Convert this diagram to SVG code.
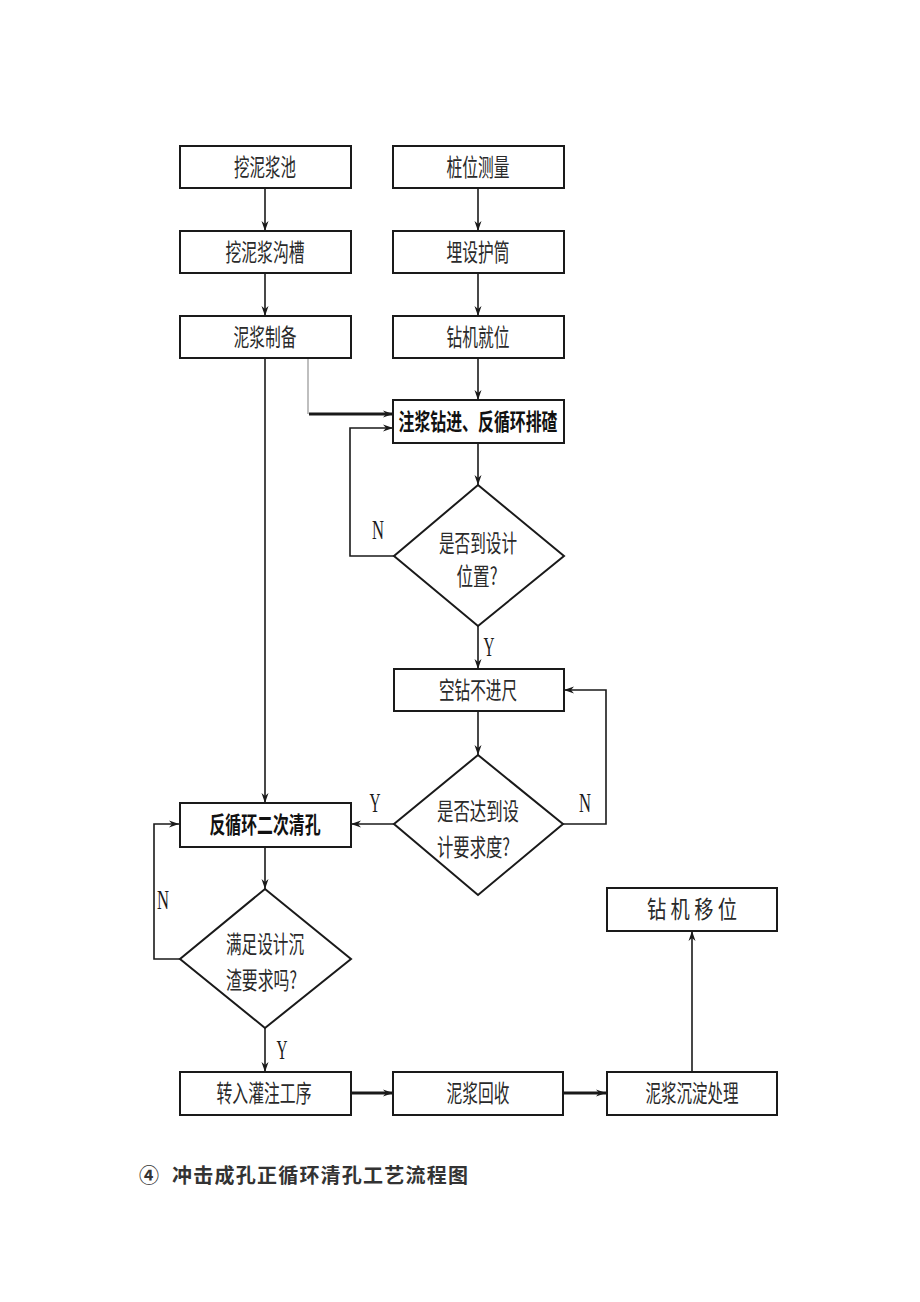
<svg xmlns="http://www.w3.org/2000/svg" width="920" height="1302" viewBox="0 0 920 1302">
<defs>
<style>
.box{fill:#fff;stroke:#1a1a1a;stroke-width:2}
.dia{fill:#fff;stroke:#1a1a1a;stroke-width:2}
.t{font-family:"Noto Sans CJK SC","Noto Sans",sans-serif;font-size:24px;fill:#2a2a2a;dominant-baseline:central}
.b{font-weight:bold;fill:#111;font-size:23px}
.c{text-anchor:middle}
.yn{font-family:"Liberation Serif",serif;font-size:28px;fill:#1a1a1a;text-anchor:middle;dominant-baseline:central}
.ln{fill:none;stroke:#1a1a1a;stroke-width:1.6}
.thk{stroke-width:3}
.cap{font-family:"Noto Sans CJK SC","Noto Sans",sans-serif;font-size:20px;font-weight:bold;fill:#333}
</style>
<marker id="ah" markerUnits="userSpaceOnUse" markerWidth="10" markerHeight="8" refX="10" refY="4" orient="auto">
<path d="M0,0.5 L10,4 L0,7.5 L3,4 z" fill="#1a1a1a"/>
</marker>
</defs>
<rect width="920" height="1302" fill="#fff"/>

<g id="connectors">
<line class="ln" x1="265" y1="188" x2="265" y2="231" marker-end="url(#ah)"/>
<line class="ln" x1="265" y1="273" x2="265" y2="316" marker-end="url(#ah)"/>
<line class="ln" x1="478" y1="188" x2="478" y2="231" marker-end="url(#ah)"/>
<line class="ln" x1="478" y1="273" x2="478" y2="316" marker-end="url(#ah)"/>
<line class="ln" x1="478" y1="358" x2="478" y2="400" marker-end="url(#ah)"/>
<line class="ln" x1="265" y1="358" x2="265" y2="803" marker-end="url(#ah)"/>
<polyline points="308,358 308,414" fill="none" stroke="#aaa" stroke-width="1.5"/>
<line class="ln thk" x1="309" y1="414" x2="393" y2="414" marker-end="url(#ah)"/>
<polyline class="ln" points="394,556 350,556 350,428 393,428" marker-end="url(#ah)"/>
<line class="ln" x1="478" y1="443" x2="478" y2="485" marker-end="url(#ah)"/>
<line class="ln" x1="478" y1="626" x2="478" y2="669" marker-end="url(#ah)"/>
<line class="ln" x1="478" y1="711" x2="478" y2="755" marker-end="url(#ah)"/>
<polyline class="ln" stroke-width="2.4" points="563,824 606,824 606,690 564,690" marker-end="url(#ah)"/>
<line class="ln" stroke-width="2" x1="394" y1="824" x2="351" y2="824" marker-end="url(#ah)"/>
<line class="ln" x1="265" y1="847" x2="265" y2="889" marker-end="url(#ah)"/>
<polyline class="ln" points="180,959 154,959 154,824 179,824" marker-end="url(#ah)"/>
<line class="ln" x1="265" y1="1028" x2="265" y2="1072" marker-end="url(#ah)"/>
<line class="ln thk" x1="351" y1="1093" x2="393" y2="1093" marker-end="url(#ah)"/>
<line class="ln thk" x1="563" y1="1093" x2="606" y2="1093" marker-end="url(#ah)"/>
<line class="ln" x1="692" y1="1072" x2="692" y2="931" marker-end="url(#ah)"/>
<text class="yn" x="378" y="529" textLength="12" lengthAdjust="spacingAndGlyphs">N</text>
<text class="yn" x="489" y="646" textLength="11" lengthAdjust="spacingAndGlyphs">Y</text>
<text class="yn" x="375" y="802" textLength="11" lengthAdjust="spacingAndGlyphs">Y</text>
<text class="yn" x="585" y="802" textLength="12" lengthAdjust="spacingAndGlyphs">N</text>
<text class="yn" x="163" y="899" textLength="12" lengthAdjust="spacingAndGlyphs">N</text>
<text class="yn" x="282" y="1049" textLength="11" lengthAdjust="spacingAndGlyphs">Y</text>
</g>

<g id="n1"><rect class="box" x="180" y="146" width="171" height="42"/><text class="t c" x="265" y="165" textLength="62" lengthAdjust="spacingAndGlyphs">挖泥浆池</text></g>
<g id="n2"><rect class="box" x="180" y="231" width="171" height="42"/><text class="t c" x="265" y="250" textLength="79" lengthAdjust="spacingAndGlyphs">挖泥浆沟槽</text></g>
<g id="n3"><rect class="box" x="180" y="316" width="171" height="42"/><text class="t c" x="265" y="335" textLength="63" lengthAdjust="spacingAndGlyphs">泥浆制备</text></g>
<g id="n4"><rect class="box" x="393" y="146" width="171" height="42"/><text class="t c" x="478" y="165" textLength="63" lengthAdjust="spacingAndGlyphs">桩位测量</text></g>
<g id="n5"><rect class="box" x="393" y="231" width="171" height="42"/><text class="t c" x="478" y="250" textLength="63" lengthAdjust="spacingAndGlyphs">埋设护筒</text></g>
<g id="n6"><rect class="box" x="393" y="316" width="171" height="42"/><text class="t c" x="478" y="335" textLength="63" lengthAdjust="spacingAndGlyphs">钻机就位</text></g>
<g id="n7"><rect class="box" x="393" y="400" width="171" height="43"/><text class="t b c" x="478" y="420" textLength="159" lengthAdjust="spacingAndGlyphs">注浆钻进、反循环排碴</text></g>
<g id="d1"><polygon class="dia" points="478,485 564,556 478,626 394,556"/><text class="t c" x="478" y="541" textLength="78" lengthAdjust="spacingAndGlyphs">是否到设计</text><text class="t c" x="477" y="574" textLength="41" lengthAdjust="spacingAndGlyphs">位置?</text></g>
<g id="n8"><rect class="box" x="394" y="669" width="170" height="42"/><text class="t c" x="478" y="688" textLength="78" lengthAdjust="spacingAndGlyphs">空钻不进尺</text></g>
<g id="d2"><polygon class="dia" points="478,755 563,824 478,895 394,824"/><text class="t" x="437" y="809" textLength="82" lengthAdjust="spacingAndGlyphs">是否达到设</text><text class="t" x="437" y="845" textLength="73" lengthAdjust="spacingAndGlyphs">计要求度?</text></g>
<g id="n9"><rect class="box" x="180" y="803" width="171" height="44"/><text class="t b c" x="265" y="823" textLength="111" lengthAdjust="spacingAndGlyphs">反循环二次清孔</text></g>
<g id="d3"><polygon class="dia" points="265,889 351,959 265,1028 180,959"/><text class="t" x="226" y="942" textLength="78" lengthAdjust="spacingAndGlyphs">满足设计沉</text><text class="t" x="226" y="978" textLength="71" lengthAdjust="spacingAndGlyphs">渣要求吗?</text></g>
<g id="n10"><rect class="box" x="607" y="888" width="170" height="43"/><text class="t c" x="692" y="907" textLength="90" lengthAdjust="spacingAndGlyphs">钻 机 移 位</text></g>
<g id="n11"><rect class="box" x="180" y="1072" width="171" height="43"/><text class="t c" x="264" y="1091" textLength="95" lengthAdjust="spacingAndGlyphs">转入灌注工序</text></g>
<g id="n12"><rect class="box" x="393" y="1072" width="170" height="43"/><text class="t c" x="478" y="1091" textLength="63" lengthAdjust="spacingAndGlyphs">泥浆回收</text></g>
<g id="n13"><rect class="box" x="607" y="1072" width="170" height="43"/><text class="t c" x="692" y="1091" textLength="93" lengthAdjust="spacingAndGlyphs">泥浆沉淀处理</text></g>

<g id="caption">
<text class="cap" x="139" y="1183">④</text>
<text class="cap" x="172" y="1183" textLength="296" lengthAdjust="spacing">冲击成孔正循环清孔工艺流程图</text>
</g>
</svg>
